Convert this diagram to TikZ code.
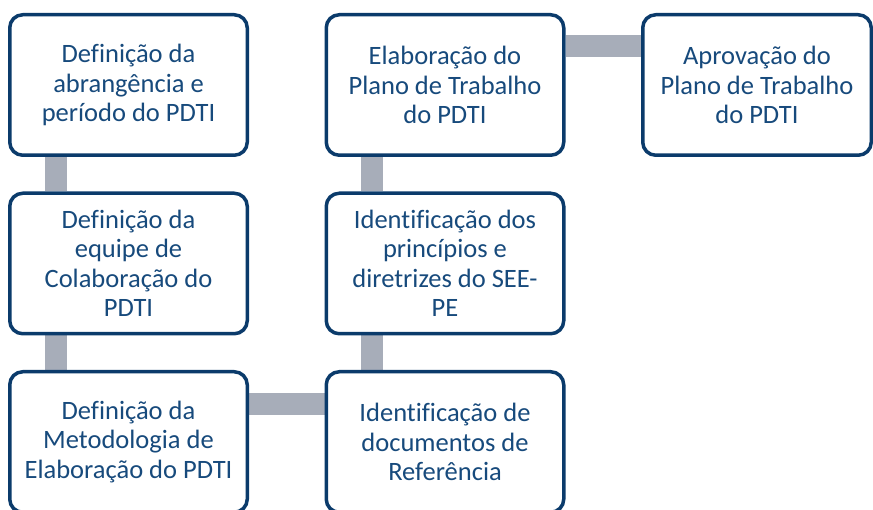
\documentclass[tikz,border=0pt]{standalone}
\usepackage{fontspec}
\setmainfont{Carlito}[Ligatures=NoCommon]
\usetikzlibrary{backgrounds}
\definecolor{boxline}{HTML}{0B3B6B}
\definecolor{boxtext}{HTML}{174A7C}
\definecolor{linkgray}{HTML}{A7ADB9}
\tikzset{
  stepbox/.style={draw=boxline, line width=3.5pt, rounded corners=13pt, fill=white,
    minimum width=237.5pt, minimum height=140.5pt, inner sep=0pt, align=center,
    text=boxtext, font=\fontsize{26.5pt}{29.5pt}\selectfont},
  lastbox/.style={stepbox, minimum width=228.5pt},
  link/.style={draw=linkgray, line width=22pt}
}
\begin{document}
\begin{tikzpicture}[x=1pt,y=-1pt]
\useasboundingbox (0,0) rectangle (873,510);
\node[stepbox] (b1) at (128.5,85) {Definição da\\abrangência e\\período do PDTI};
\node[stepbox] (b2) at (128.5,263.5) {Definição da\\equipe de\\Colaboração do\\PDTI};
\node[stepbox] (b3) at (128.5,442) {Definição da\\Metodologia de\\Elaboração do PDTI};
\node[stepbox] (b4) at (445,85) {Elaboração do\\Plano de Trabalho\\do PDTI};
\node[stepbox] (b5) at (445,263.5) {Identificação dos\\princípios e\\diretrizes do SEE-\\PE};
\node[stepbox] (b6) at (445,442) {Identificação de\\documentos de\\Referência};
\node[lastbox] (b7) at (757,85) {Aprovação do\\Plano de Trabalho\\do PDTI};
\begin{scope}[on background layer]
\draw[link] ([xshift=48.25pt]b1.south west) -- ([xshift=48.25pt]b2.north west);
\draw[link] ([xshift=48.25pt]b2.south west) -- ([xshift=48.25pt]b3.north west);
\draw[link] ([yshift=-34pt]b3.north east) -- ([yshift=-34pt]b6.north west);
\draw[link] ([xshift=47.25pt]b6.north west) -- ([xshift=47.25pt]b5.south west);
\draw[link] ([xshift=47.25pt]b5.north west) -- ([xshift=47.25pt]b4.south west);
\draw[link] ([yshift=-33.25pt]b4.north east) -- ([yshift=-33.25pt]b7.north west);
\end{scope}
\end{tikzpicture}
\end{document}
